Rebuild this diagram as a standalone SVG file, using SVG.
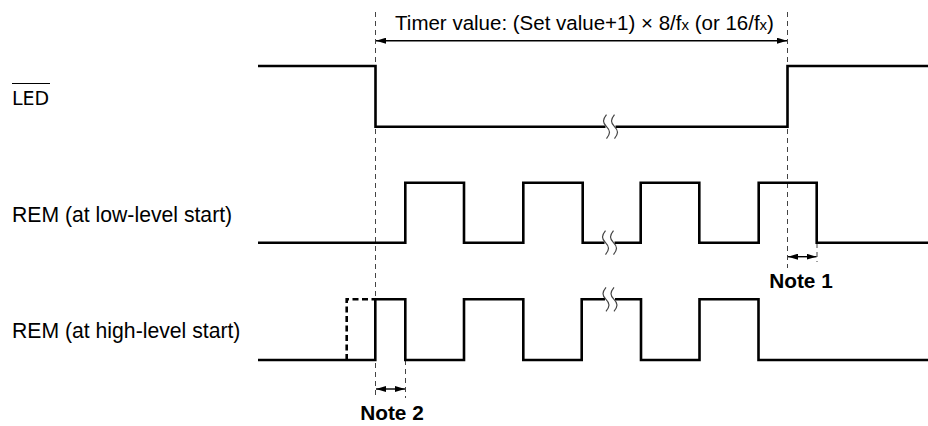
<svg xmlns="http://www.w3.org/2000/svg" width="928" height="426" viewBox="0 0 928 426">
<style>
.sig{fill:none;stroke:#000;stroke-width:2.6;stroke-linejoin:miter;stroke-linecap:butt}
.alt{fill:none;stroke:#000;stroke-width:2.6;stroke-dasharray:6,3.5}
.guide{fill:none;stroke:#444;stroke-width:1;stroke-dasharray:5,4}
.dim{fill:none;stroke:#000;stroke-width:1.4}
.brk{fill:none;stroke:#444;stroke-width:1.2}
.lbl{font-family:"Liberation Sans",Arial,sans-serif;font-size:20.5px;fill:#000}
.side{font-family:"Liberation Sans",Arial,sans-serif;font-size:21.2px;fill:#000}
.note{font-family:"Liberation Sans",Arial,sans-serif;font-size:20.8px;font-weight:bold;fill:#000}
</style>
<defs>
<marker id="ah" viewBox="0 0 10 6" refX="10" refY="3" markerWidth="10" markerHeight="6" markerUnits="userSpaceOnUse" orient="auto-start-reverse">
<path d="M0,0 L10,3 L0,6 Z" fill="#000"/>
</marker>
<g id="brkmark">
<rect x="-1" y="-4" width="10" height="8" fill="#fff"/>
<path class="brk" d="M0,-12 C-4,-7 -4,-4 0,0 C4,4 4,7 0,12"/>
<path class="brk" d="M8,-12 C4,-7 4,-4 8,0 C12,4 12,7 8,12"/>
</g>
</defs>

<g id="labels">
<g id="label-led">
<text x="12" y="105" style="font-family:'DejaVu Sans',sans-serif;font-size:19px;fill:#000">LED</text>
<line x1="12" y1="83.5" x2="50" y2="83.5" stroke="#000" stroke-width="1.2"/>
</g>
<text id="label-rem-low" class="side" x="12" y="222">REM (at low-level start)</text>
<text id="label-rem-high" class="side" x="12" y="338">REM (at high-level start)</text>
</g>

<g id="guides">
<line class="guide" x1="375.5" y1="12" x2="375.5" y2="398"/>
<line class="guide" x1="787.5" y1="12" x2="787.5" y2="268"/>
<line class="guide" x1="817" y1="243" x2="817" y2="262"/>
<line class="guide" x1="405.5" y1="360" x2="405.5" y2="398"/>
</g>

<g id="sig-led">
<path class="sig" d="M258,66 H375.5 V126.7 H787.5 V66 H928"/>
<use href="#brkmark" x="606.5" y="126.7"/>
</g>

<g id="sig-rem-low">
<path class="sig" d="M258,242.7 H405.3 V182.7 H464 V242.7 H523.3 V182.7 H582.7 V242.7 H640.7 V182.7 H699.3 V242.7 H758.7 V182.7 H816.7 V242.7 H928"/>
<use href="#brkmark" x="605.5" y="242.7"/>
</g>

<g id="sig-rem-high">
<path class="alt" d="M346.7,360 V299.3 H375.3"/>
<path class="sig" d="M258,360 H375.3 V299.3 H405.3 V360 H464 V299.3 H523.3 V360 H581.7 V299.3 H641 V360 H699.5 V299.3 H758.5 V360 H928"/>
<use href="#brkmark" x="606" y="299.3"/>
</g>

<g id="connectors">
<line class="dim" x1="376" y1="40.7" x2="787" y2="40.7" marker-start="url(#ah)" marker-end="url(#ah)"/>
<line class="dim" x1="788" y1="256.7" x2="816.5" y2="256.7" marker-start="url(#ah)" marker-end="url(#ah)"/>
<line class="dim" x1="376" y1="389" x2="405" y2="389" marker-start="url(#ah)" marker-end="url(#ah)"/>
</g>

<g id="annotations">
<text id="timer-text" class="lbl" x="584.5" y="30" text-anchor="middle">Timer value: (Set value+1) × 8/f<tspan font-size="15">x</tspan> (or 16/f<tspan font-size="15">x</tspan>)</text>
<text id="note1" class="note" x="801" y="288" text-anchor="middle">Note 1</text>
<text id="note2" class="note" x="392" y="420" text-anchor="middle">Note 2</text>
</g>
</svg>
